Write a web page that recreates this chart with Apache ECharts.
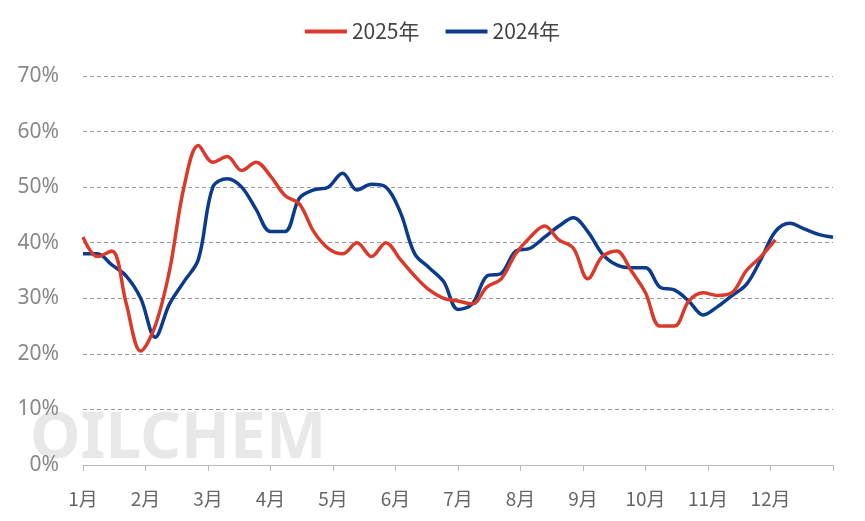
<!DOCTYPE html>
<html><head><meta charset="utf-8">
<script src="https://cdn.jsdelivr.net/npm/echarts@6/dist/echarts.min.js"></script>
<style>html,body{margin:0;padding:0;background:#fff}#main{width:865px;height:521px}</style>
</head><body><div id="main"></div>
<script>
// 周度数据（按周序号，共52周）
const months = ['1月','2月','3月','4月','5月','6月','7月','8月','9月','10月','11月','12月']
const y2025 = [41,37.5,38.5,29,20.5,25,35,50,57.5,54.5,55.5,53,54.5,52,48.5,47,42,39,38,40,37.5,40,37,34,31.5,30,29.5,29,32,33.5,38,41,43,40.5,39,33.5,37.5,38.5,35,31,25,25,29.5,31,30.5,31,35,37.5,40.5]
const y2024 = [38,38,36,34,30,23,29,33,37,50,51.5,50,46,42,42,48,49.5,50,52.5,49.5,50.5,50,45.5,38,35.5,33,28,29,34,34.5,38.5,39,41,43,44.5,42,38,36,35.5,35.5,32,31.5,29.5,27,28.5,30.5,32.5,37,42,43.5,42.5,41.5,41]
const weeks = 52
const step = weeks / 12

const chart = echarts.init(document.getElementById('main'))
const toPairs = arr => arr.map((v, i) => [i, v])

chart.setOption({
    animation: false,
    color: ['#d93a2b', '#0c3b8c'],
    legend: {
        top: 16, left: 'center', itemWidth: 42, itemHeight: 4, itemGap: 26,
        textStyle: {fontSize: 21, color: '#444', fontFamily: 'Noto Sans CJK SC'},
        icon: 'rect',
    },
    graphic: [{
        type: 'text', left: 30, top: 408, z: 0,
        style: {text: 'OILCHEM', fontSize: 64, fontWeight: 'bold', fill: 'rgba(205,205,205,0.45)', fontFamily: 'Noto Sans'}
    }],
    grid: {left: 83, right: 32, top: 76, bottom: 56},
    xAxis: {
        type: 'value', min: 0, max: weeks, interval: step,
        axisLine: {lineStyle: {color: '#bbb'}},
        axisTick: {show: true, length: 6, lineStyle: {color: '#bbb'}},
        splitLine: {show: false},
        axisLabel: {
            fontSize: 19, color: '#666', margin: 24, fontFamily: 'Noto Sans CJK SC',
            formatter: v => months[Math.round(v / step)] || ''
        },
    },
    yAxis: {
        type: 'value', min: 0, max: 70, interval: 10,
        axisLine: {show: false}, axisTick: {show: false},
        splitLine: {lineStyle: {type: [4, 3], color: '#999'}},
        axisLabel: {fontSize: 21, color: '#888', margin: 24, formatter: '{value}%', fontFamily: 'Noto Sans'},
    },
    series: [
        {name: '2025年', type: 'line', smooth: 0.35, showSymbol: false, lineStyle: {width: 3.5}, data: toPairs(y2025), z: 3},
        {name: '2024年', type: 'line', smooth: 0.35, showSymbol: false, lineStyle: {width: 3.5}, data: toPairs(y2024), z: 2},
    ],
})
</script></body></html>
